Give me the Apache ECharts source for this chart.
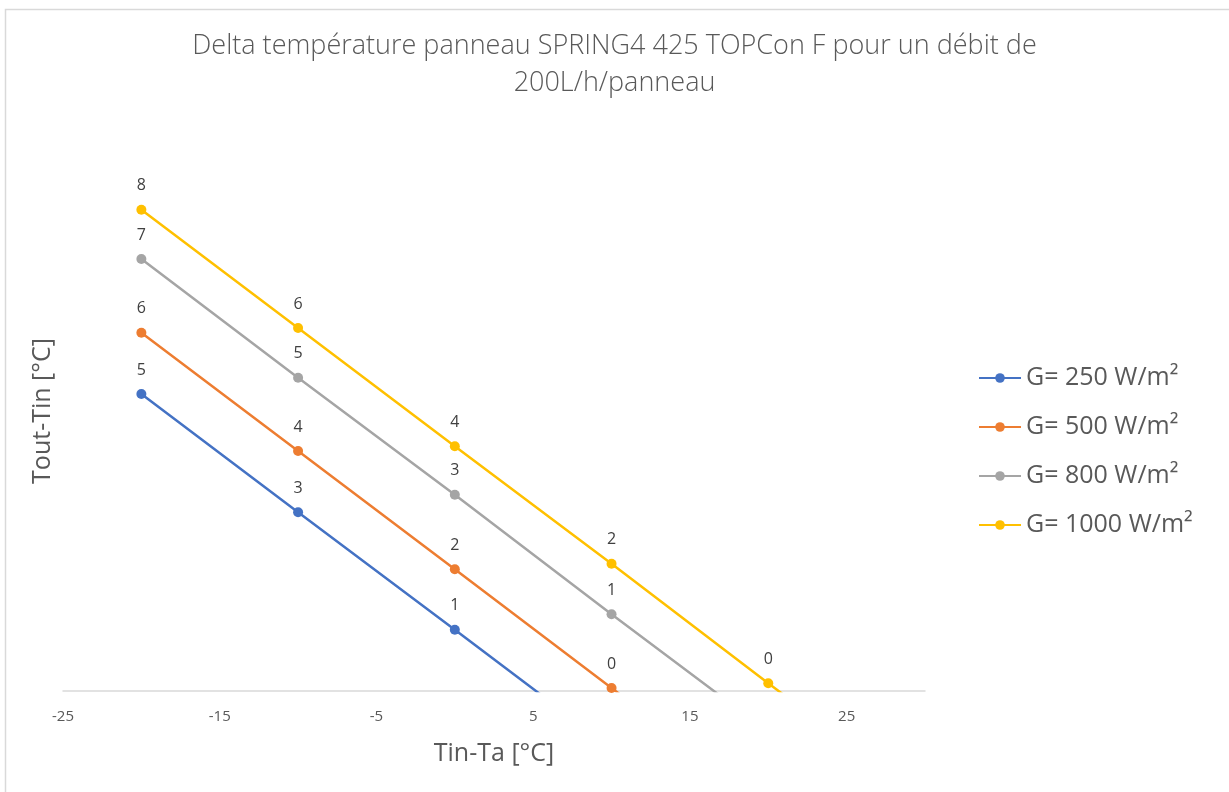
<!DOCTYPE html>
<html>
<head>
<meta charset="utf-8">
<title>Delta température panneau</title>
<script src="https://cdn.jsdelivr.net/npm/echarts@6/dist/echarts.min.js"></script>
<style>
  html, body { margin: 0; padding: 0; background: #fff; }
  #chart { width: 1229px; height: 792px; }
</style>
</head>
<body>
<div id="chart"></div>
<script>
// Tin-Ta values (°C) shared by all series
const tinTa = [-20, -10, 0, 10, 20, 30];

// Tout-Tin (°C) per irradiance; points below 0 are clipped by the axis like in the original
const g250 = [4.95, 2.98, 1.02, -0.95, null, null];
const g500 = [5.97, 4.00, 2.03, 0.05, -1.92, null];
const g800 = [7.20, 5.22, 3.27, 1.28, -0.68, null];
const g1000 = [8.02, 6.05, 4.08, 2.12, 0.13, -1.84];

const seriesNames = ['G= 250 W/m²', 'G= 500 W/m²', 'G= 800 W/m²', 'G= 1000 W/m²'];
const colors = ['#4472C4', '#ED7D31', '#A5A5A5', '#FFC000'];

const font = '"Open Sans", "Noto Sans", sans-serif';
const textGrey = '#595959';

function pairs(values) {
  return values
    .map((v, i) => [tinTa[i], v])
    .filter(p => p[1] !== null);
}

const chart = echarts.init(document.getElementById('chart'));

chart.setOption({
  animation: false,
  backgroundColor: '#fff',
  textStyle: { fontFamily: font },
  title: {
    text: 'Delta température panneau SPRING4 425 TOPCon F pour un débit de\n200L/h/panneau',
    left: 'center',
    top: 28,
    padding: [0, 0, 0, 8],
    textStyle: { fontFamily: font, fontSize: 27, fontWeight: 300, color: textGrey, lineHeight: 37 }
  },
  graphic: [{
    type: 'rect',
    shape: { x: 5.5, y: 9.5, width: 1240, height: 800 },
    style: { fill: 'none', stroke: '#d9d9d9', lineWidth: 1.5 },
    silent: true
  }],
  legend: {
    orient: 'vertical',
    left: 978,
    top: 365,
    padding: 0,
    itemWidth: 42,
    itemHeight: 12,
    itemGap: 23,
    data: seriesNames,
    textStyle: { fontFamily: font, fontSize: 25, color: textGrey, lineHeight: 26 }
  },
  grid: {
    left: 63,
    right: 304,
    top: 151,
    bottom: 101,
    outerBoundsMode: 'none'
  },
  xAxis: {
    type: 'value',
    min: -25,
    max: 30,
    interval: 10,
    name: 'Tin-Ta [°C]',
    nameLocation: 'middle',
    nameGap: 50,
    nameTextStyle: { fontFamily: font, fontSize: 25, color: textGrey },
    axisLine: { lineStyle: { color: '#d9d9d9', width: 1.5 } },
    axisTick: { show: false },
    splitLine: { show: false },
    axisLabel: {
      margin: 18,
      fontSize: 15,
      color: textGrey,
      fontFamily: font,
      showMaxLabel: false
    }
  },
  yAxis: {
    type: 'value',
    min: 0,
    max: 9,
    name: 'Tout-Tin [°C]',
    nameLocation: 'middle',
    nameGap: 8,
    nameTextStyle: { fontFamily: font, fontSize: 25, color: textGrey, padding: [0, 0, 0, 20] },
    axisLine: { show: false },
    axisTick: { show: false },
    axisLabel: { show: false },
    splitLine: { show: false }
  },
  series: [g250, g500, g800, g1000].map((vals, i) => ({
    name: seriesNames[i],
    type: 'line',
    data: pairs(vals),
    clip: true,
    symbol: 'circle',
    symbolSize: 10,
    color: colors[i],
    lineStyle: { width: 2.5, color: colors[i] },
    itemStyle: { color: colors[i] },
    label: {
      show: true,
      position: 'top',
      distance: 11,
      fontSize: 16,
      color: '#404040',
      fontFamily: font,
      formatter: p => Math.round(p.value[1])
    }
  }))
});
</script>
</body>
</html>
